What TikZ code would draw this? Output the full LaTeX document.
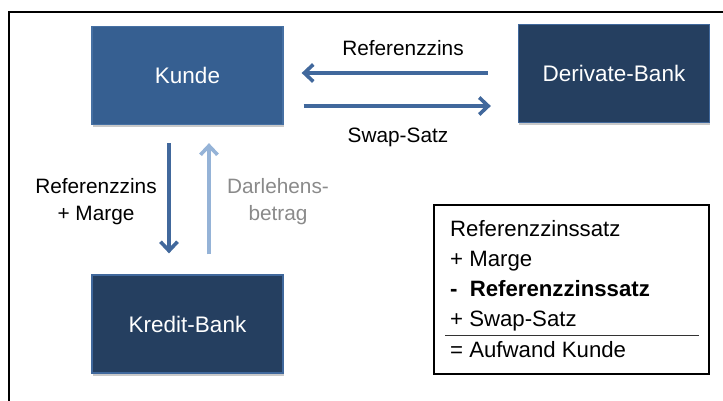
\documentclass[tikz,border=0pt]{standalone}
\usepackage{fontspec}
\setmainfont{Liberation Sans}
\usetikzlibrary{arrows.meta,shadows}
\definecolor{kundeblue}{RGB}{54,95,145}
\definecolor{kundeedge}{RGB}{70,112,163}
\definecolor{navy}{RGB}{37,63,96}
\definecolor{navyedge}{RGB}{64,104,156}
\definecolor{arrowblue}{RGB}{65,104,156}
\definecolor{lightarrow}{RGB}{149,179,215}
\definecolor{labelgray}{RGB}{138,138,138}
\begin{document}
\begin{tikzpicture}[x=1pt,y=-1pt,
  boxnode/.style={draw, line width=1.3pt, text=white, minimum width=191pt, minimum height=98pt,
    inner sep=0pt, font=\fontsize{22.5}{26}\selectfont,
    drop shadow={shadow xshift=0.5pt, shadow yshift=-2.5pt, opacity=0.3, fill=black!70}},
  flowarrow/.style={line width=3.6pt, arrowblue, -{Straight Barb[length=9pt,width=17pt,line width=3.6pt]}},
  lightflow/.style={flowarrow, lightarrow},
  lbl/.style={anchor=base, inner sep=0pt, font=\fontsize{20.8}{24}\selectfont},
  sumline/.style={anchor=base west, inner sep=0pt, font=\fontsize{22.2}{26}\selectfont}
]
\useasboundingbox (0,0) rectangle (723,400);
\begin{scope}
\clip (0,0) rectangle (723,400);
\draw[line width=1.8pt] (9,420) -- (9,12) -- (740,12);
\end{scope}

% boxes
\node[boxnode, fill=kundeblue, draw=kundeedge] (kunde) at (187.5,75.5) {Kunde};
\node[boxnode, fill=navy, draw=navyedge] (derivate) at (614,73.5) {Derivate-Bank};
\node[boxnode, fill=navy, draw=navyedge] (kredit) at (187.5,324) {Kredit-Bank};

% horizontal arrows
\draw[flowarrow, shorten <=30pt, shorten >=18pt] (derivate.west |- 0,73) -- (kunde.east |- 0,73);
\draw[flowarrow, shorten <=20pt, shorten >=27pt] (kunde.east |- 0,106) -- (derivate.west |- 0,106);
\node[lbl] (refA) at (403,55) {Referenzzins};
\node[lbl] (swap) at (398,142) {Swap-Satz};

% vertical arrows
\draw[flowarrow, shorten <=18pt, shorten >=21pt] (kunde.south -| 169,0) -- (kredit.north -| 169,0);
\draw[lightflow, shorten <=20pt, shorten >=18pt] (kredit.north -| 209,0) -- (kunde.south -| 209,0);
\node[lbl] (refB) at (96,193) {Referenzzins};
\node[lbl] (marge) at (96,220) {+ Marge};
\node[lbl, text=labelgray] (darl) at (278,193) {Darlehens-};
\node[lbl, text=labelgray] (betrag) at (278,220) {betrag};

% summary box
\node[draw, line width=1.4pt, minimum width=275pt, minimum height=169pt, inner sep=0pt] (summary) at (571.5,289.5) {};
\node[sumline] (s1) at (450,236) {Referenzzinssatz};
\node[sumline] (s2) at (450,266) {+ Marge};
\node[sumline] (s3) at (450,296) {\bfseries -\hspace{0.55em}Referenzzinssatz};
\node[sumline] (s4) at (450,326) {+ Swap-Satz};
\node[sumline] (s5) at (450,357) {= Aufwand Kunde};
\draw[line width=0.9pt, black!80] (445,335) -- (699,335);
\end{tikzpicture}
\end{document}
